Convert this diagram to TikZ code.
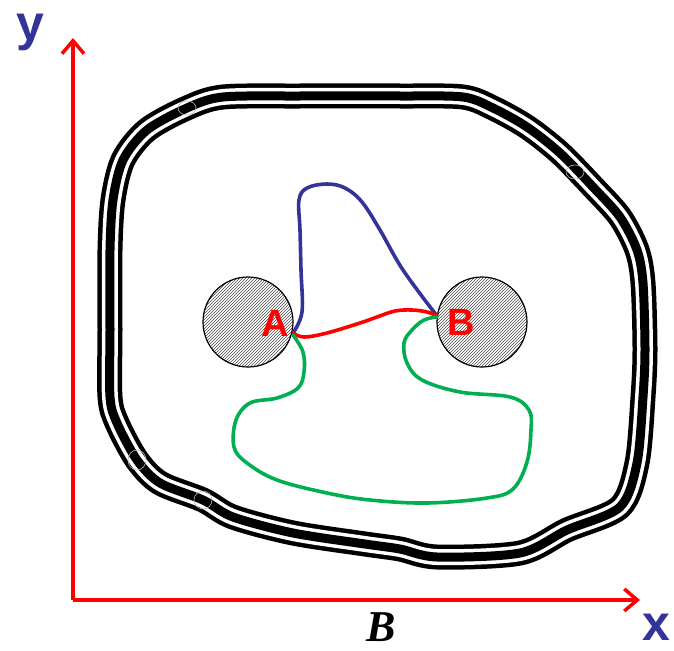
\documentclass[tikz,border=0pt]{standalone}
\usepackage{fontspec}
\setmainfont{Liberation Serif}
\setsansfont{Liberation Sans}
\usetikzlibrary{arrows.meta,patterns}
\definecolor{axred}{RGB}{255,0,0}
\definecolor{dblue}{RGB}{51,51,153}
\definecolor{pgreen}{RGB}{0,176,80}
\tikzset{
  axis/.style={draw=axred, line width=3.5pt, -{Straight Barb[length=13pt,width=22pt]}},
  ball/.style={circle, minimum size=90pt, inner sep=0pt, draw=black, line width=1.2pt,
     fill=gray!20, pattern=north east lines, pattern color=gray!60!black},
  ptlabel/.style={font=\sffamily\bfseries\fontsize{38}{38}\selectfont, text=red, inner sep=0pt},
  axlabel/.style={font=\sffamily\bfseries\fontsize{50}{50}\selectfont, text=dblue, inner sep=0pt},
  curve/.style={line width=3.6pt, line cap=round, line join=round},
  bmark/.style={draw=gray!55, line width=0.6pt},
}
\begin{document}
\begin{tikzpicture}[x=1pt,y=-1pt]
\useasboundingbox (0,0) rectangle (674,650);
% boundary
\def\bnd{plot[smooth cycle, tension=0.5] coordinates {
 (223,97) (300,96) (400,96) (463,97) (493,108) (527,127) (560,153) (593,187)
 (620,217) (637,250) (643,283) (645,350) (643,397) (637,463) (620,507)
 (567,530) (520,553) (437,557) (400,549) (365,544) (293,533) (233,517)
 (203,500) (160,483) (137,460) (117,423) (110,397) (110,330) (110,250)
 (113,200) (123,160) (147,130) (187,108)}}
\draw[line width=25pt, black, line join=round] \bnd;
\draw[line width=16pt, white, line join=round] \bnd;
\draw[line width=9pt, black, line join=round] \bnd;
% small marks on the boundary
\draw[bmark] (187,108) ellipse (9pt and 7pt);
\draw[bmark] (575,172) ellipse (9pt and 7pt);
\draw[bmark] (137,460) ellipse (9pt and 10pt);
\draw[bmark] (203,500) ellipse (9pt and 9pt);
% axes
\coordinate (O) at (73,600);
\coordinate (Ytip) at (73,38);
\coordinate (Xtip) at (640,600);
\draw[axis] (O) -- (Ytip);
\draw[axis] (O) -- (Xtip);
\node[axlabel] (ylab) at (30,32) {y};
\node[axlabel] (xlab) at (656,627) {x};
\node[font=\rmfamily\bfseries\itshape\fontsize{44}{44}\selectfont, inner sep=0pt] (Blab) at (381,627) {B};
% balls
\node[ball] (ballA) at (248,322) {};
\node[ball] (ballB) at (482,322) {};
\coordinate (A) at (293,333);
\coordinate (B) at (437,316);
% blue path
\draw[curve, dblue] plot[smooth, tension=0.6] coordinates {(293,333) (302,312) (301,270) (300,230) (299,200) (307,188) (327,184) (345,188) (362,202) (380,230) (403,270) (437,316)};
% red path
\draw[curve, red] plot[smooth, tension=0.6] coordinates {(293,333) (304,337) (327,333) (360,323) (377,317) (395,311) (412,310) (427,312) (437,316)};
% green path
\draw[curve, pgreen] plot[smooth, tension=0.6] coordinates {(293,335) (303,352) (304,372) (298,388) (277,398) (250,403) (236,420) (234,447) (247,463) (277,480) (327,493) (370,500) (427,503) (487,498) (513,489) (527,462) (531,430) (529,410) (510,397) (460,392) (422,380) (407,363) (404,343) (412,330) (424,320) (437,317)};
% point labels
\node[ptlabel] (Alab) at (275,323) {A};
\node[ptlabel] (Blab2) at (461,322) {B};
\end{tikzpicture}
\end{document}
